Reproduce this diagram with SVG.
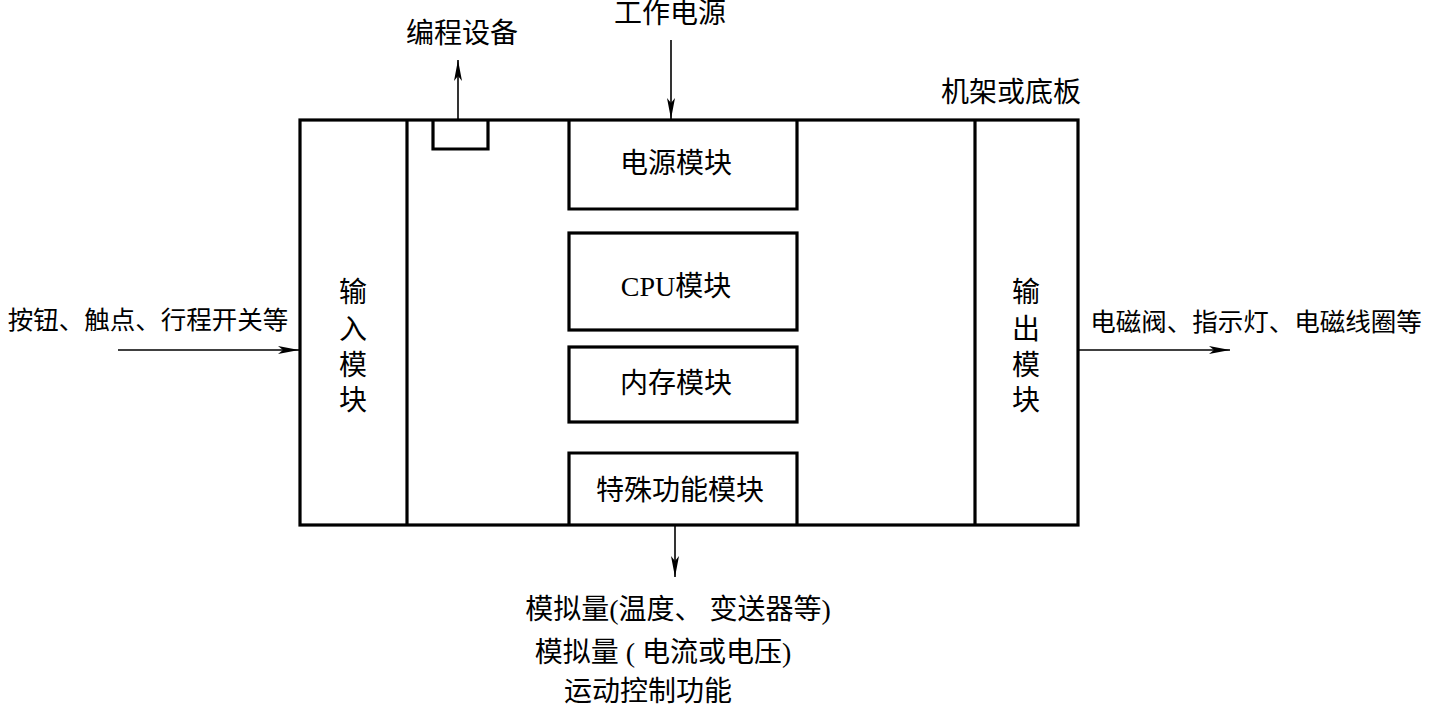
<svg xmlns="http://www.w3.org/2000/svg" width="1431" height="708" viewBox="0 0 1431 708">
<style>
.box{fill:none;stroke:#000;stroke-width:3.2}
.ln{fill:none;stroke:#000;stroke-width:1.6}
text{font-family:"Liberation Serif","Noto Sans CJK SC",serif;font-size:28px;fill:#000;dominant-baseline:central;text-anchor:middle}
.sm{font-size:25.5px}
</style>
<defs>
<marker id="ah" markerUnits="userSpaceOnUse" markerWidth="22" markerHeight="10" refX="21" refY="4" orient="auto">
<path d="M0,0 L21,4 L0,8 L5,4 Z" fill="#000"/>
</marker>
</defs>
<rect width="1431" height="708" fill="#fff"/>
<g id="rack">
<rect class="box" x="300" y="120" width="778" height="405"/>
<text x="1011" y="92">机架或底板</text>
</g>
<g id="input-module">
<line class="box" x1="407" y1="120" x2="407" y2="525"/>
<text x="353" y="292">输</text>
<text x="353" y="329">入</text>
<text x="353" y="365">模</text>
<text x="353" y="400">块</text>
</g>
<g id="output-module">
<line class="box" x1="975" y1="120" x2="975" y2="525"/>
<text x="1026" y="292">输</text>
<text x="1026" y="329">出</text>
<text x="1026" y="365">模</text>
<text x="1026" y="400">块</text>
</g>
<g id="prog-port">
<path class="box" d="M433,120 V149 H488 V120"/>
</g>
<g id="power-module">
<path class="box" d="M569,120 V209 H797 V120"/>
<text x="676" y="163">电源模块</text>
</g>
<g id="cpu-module">
<rect class="box" x="569" y="233" width="228" height="97"/>
<text x="676" y="286">CPU模块</text>
</g>
<g id="memory-module">
<rect class="box" x="569" y="347" width="228" height="75"/>
<text x="676" y="383">内存模块</text>
</g>
<g id="special-module">
<path class="box" d="M569,525 V453 H797 V525"/>
<text x="680" y="490">特殊功能模块</text>
</g>
<g id="labels">
<text x="462" y="33">编程设备</text>
<text x="670" y="13">工作电源</text>
<text class="sm" x="148" y="320">按钮、触点、行程开关等</text>
<text class="sm" x="1256" y="322">电磁阀、指示灯、电磁线圈等</text>
<text x="678" y="609">模拟量(温度、 变送器等)</text>
<text x="663" y="652">模拟量 ( 电流或电压)</text>
<text x="648" y="691">运动控制功能</text>
</g>
<g id="connectors">
<line class="ln" x1="458" y1="120" x2="458" y2="60" marker-end="url(#ah)"/>
<line class="ln" x1="671" y1="40" x2="671" y2="119" marker-end="url(#ah)"/>
<line class="ln" x1="118" y1="350" x2="299" y2="350" marker-end="url(#ah)"/>
<line class="ln" x1="1079" y1="350" x2="1230" y2="350" marker-end="url(#ah)"/>
<line class="ln" x1="675" y1="526" x2="675" y2="577" marker-end="url(#ah)"/>
</g>
</svg>
